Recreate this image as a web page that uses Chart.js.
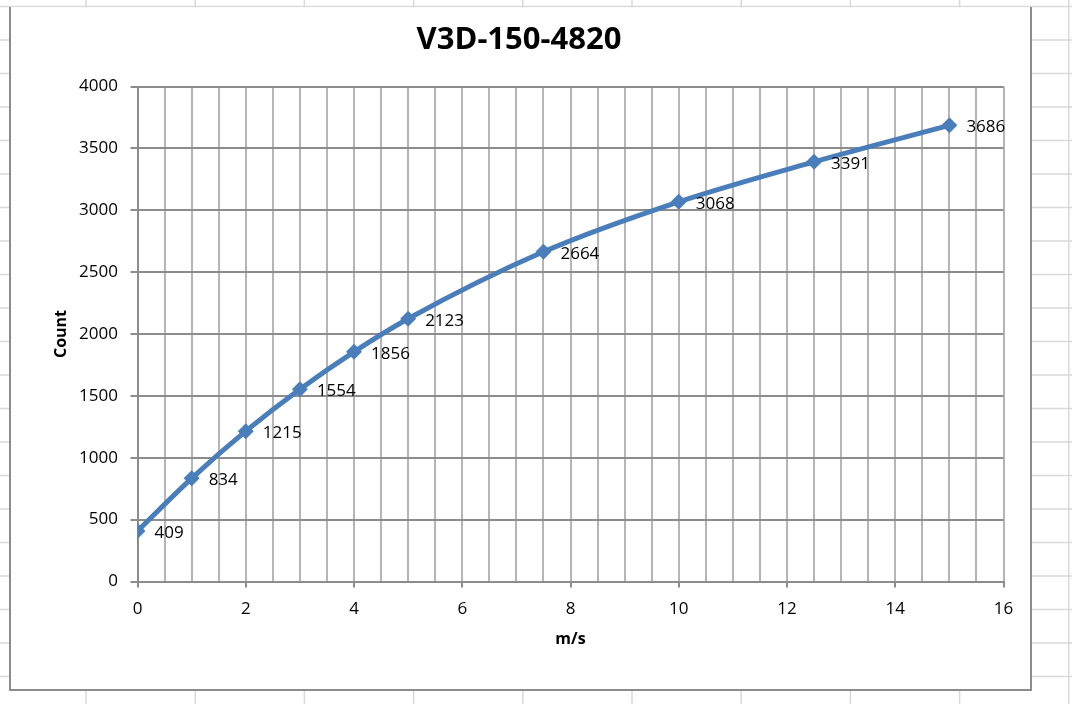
<!DOCTYPE html>
<html>
<head>
<meta charset="utf-8">
<script src="https://cdn.jsdelivr.net/npm/chart.js@4.4.1/dist/chart.umd.min.js"></script>
<style>
    html, body { margin: 0; padding: 0; background: #fff; }
    #wrap { width: 1072px; height: 704px; }
</style>
</head>
<body>
<div id="wrap"><canvas id="myChart" width="1072" height="704"></canvas></div>
<script>
// data
const chartTitle = 'V3D-150-4820';
const xTitle = 'm/s';
const yTitle = 'Count';
const speeds = [0, 1, 2, 3, 4, 5, 7.5, 10, 12.5, 15];
const counts = [409, 834, 1215, 1554, 1856, 2123, 2664, 3068, 3391, 3686];

const FONT = '"Open Sans", "Noto Sans", sans-serif';

// spreadsheet cells behind the chart + chart frame + title
const sheetBackground = {
    id: 'sheetBackground',
    beforeDraw(chart) {
        const c = chart.ctx;
        c.save();
        c.fillStyle = '#fff';
        c.fillRect(0, 0, chart.width, chart.height);
        c.strokeStyle = '#d9d9d9';
        c.lineWidth = 1.5;
        for (let y = 6.5; y < chart.height; y += 33.5) {
            c.beginPath(); c.moveTo(0, y); c.lineTo(chart.width, y); c.stroke();
        }
        for (let x = 86; x < chart.width; x += 109.2) {
            c.beginPath(); c.moveTo(x, 0); c.lineTo(x, chart.height); c.stroke();
        }
        c.fillStyle = '#fff';
        c.fillRect(10, 7.4, 1021, 682.6);
        c.strokeStyle = '#8c8c8c';
        c.lineWidth = 2;
        c.beginPath();
        c.moveTo(10, 7); c.lineTo(10, 690); c.lineTo(1031, 690); c.lineTo(1031, 7);
        c.stroke();

        // title, centred on the frame
        c.font = 'bold 31px ' + FONT;
        c.fillStyle = '#000';
        c.textAlign = 'center';
        c.textBaseline = 'middle';
        c.fillText(chartTitle, 519, 40);
        c.restore();
    }
};

// value labels right of each point
const pointLabels = {
    id: 'pointLabels',
    afterDatasetsDraw(chart) {
        const c = chart.ctx;
        const meta = chart.getDatasetMeta(0);
        c.save();
        c.font = '17px ' + FONT;
        c.fillStyle = '#000';
        c.textAlign = 'left';
        c.textBaseline = 'middle';
        meta.data.forEach((pt, i) => {
            c.fillText(String(counts[i]), pt.x + 17, pt.y + 2);
        });
        c.restore();
    }
};

const chartElem = document.getElementById('myChart').getContext('2d');

let chart = new Chart(chartElem, {
    type: 'line',
    data: {
        datasets: [{
            data: speeds.map((s, i) => ({ x: s, y: counts[i] })),
            borderColor: '#4a7ebb',
            backgroundColor: '#4a7ebb',
            borderWidth: 5,
            cubicInterpolationMode: 'monotone',
            pointStyle: 'rectRot',
            pointRadius: 8,
            pointBorderWidth: 0,
            fill: false
        }]
    },
    options: {
        responsive: false,
        animation: false,
        devicePixelRatio: 1,
        layout: { padding: { left: 10, right: 68.5, top: 86.5, bottom: 45 } },
        plugins: {
            legend: { display: false },
            tooltip: { enabled: false },
            title: { display: false }
        },
        scales: {
            x: {
                type: 'linear',
                min: 0,
                max: 16,
                afterFit: (scale) => { scale.height = 77.5; },
                ticks: {
                    stepSize: 0.5,
                    autoSkip: false,
                    maxRotation: 0,
                    padding: 11,
                    color: '#000',
                    font: { family: FONT, size: 17 },
                    callback: (v) => (v % 2 === 0 ? String(v) : '')
                },
                grid: {
                    color: '#b5b5b5',
                    lineWidth: 2,
                    tickLength: 6,
                    tickColor: (ctx) => (ctx.tick && ctx.tick.value % 2 === 0 ? '#8c8c8c' : 'rgba(0,0,0,0)')
                },
                border: { color: '#8c8c8c', width: 2 },
                title: {
                    display: true,
                    text: xTitle,
                    color: '#000',
                    font: { family: FONT, size: 16, weight: 'bold' },
                    padding: { top: 0, bottom: 10.4 }
                }
            },
            y: {
                min: 0,
                max: 4000,
                afterFit: (scale) => { scale.width = 127.5; },
                ticks: {
                    stepSize: 500,
                    padding: 12.5,
                    color: '#000',
                    font: { family: FONT, size: 17 },
                    callback: (v) => String(v)
                },
                grid: {
                    color: '#8c8c8c',
                    lineWidth: 2,
                    tickLength: 7,
                    tickColor: '#8c8c8c'
                },
                border: { color: '#8c8c8c', width: 2 },
                title: {
                    display: true,
                    text: yTitle,
                    color: '#000',
                    font: { family: FONT, size: 16, weight: 'bold' },
                    padding: { top: 41.4, bottom: 0 }
                }
            }
        }
    },
    plugins: [sheetBackground, pointLabels]
});
</script>
</body>
</html>
